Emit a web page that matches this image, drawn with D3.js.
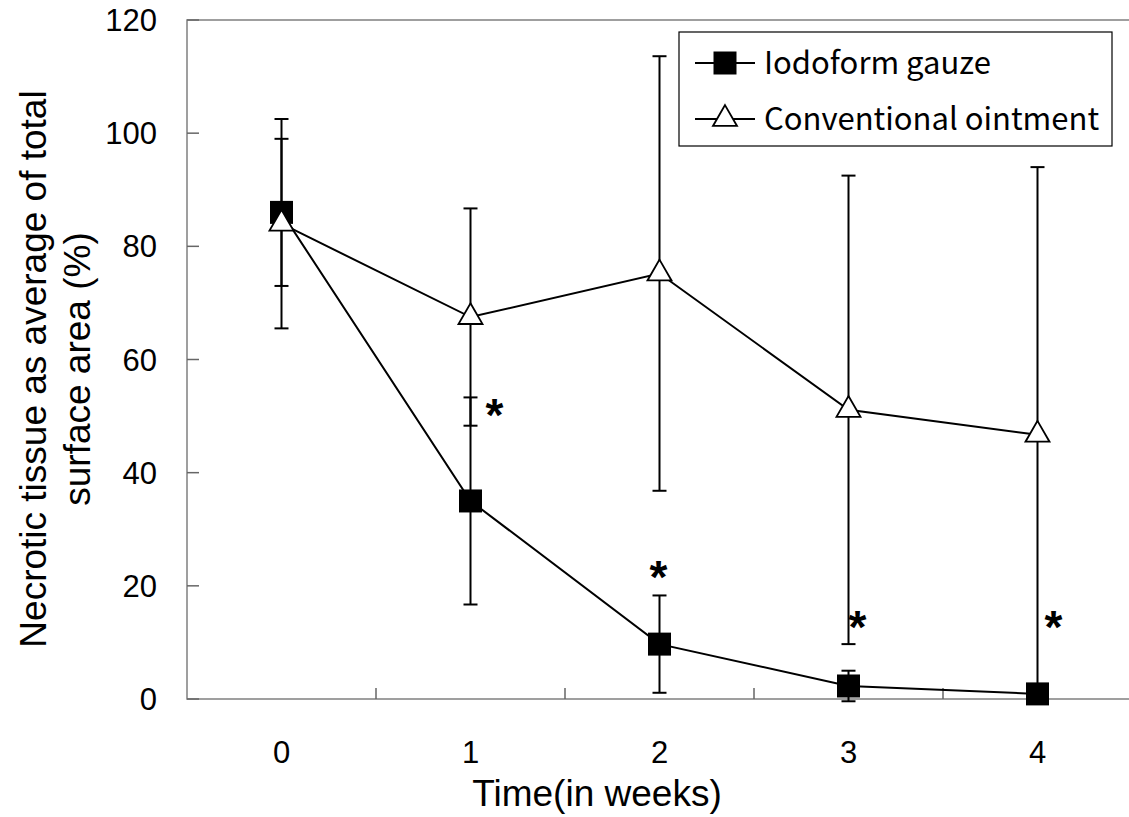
<!DOCTYPE html>
<html>
<head>
<meta charset="utf-8">
<script src="https://cdn.jsdelivr.net/npm/d3@7"></script>
<style>
	body { margin: 0; background: #fff; }
	svg { display: block; }
	.tick-label { font-family: "Liberation Sans", Arial, sans-serif; font-size: 31px; fill: #000; }
	.axis-title { font-family: "Liberation Sans", Arial, sans-serif; font-size: 37px; fill: #000; }
	.legend-text { font-family: "Noto Sans CJK JP", "Liberation Sans", sans-serif; font-size: 31px; fill: #000; }
	.star { font-family: "Liberation Sans", Arial, sans-serif; font-size: 46px; font-weight: bold; fill: #000; }
</style>
</head>
<body>
<svg id="svg"></svg>
<script>
// data
const weeks = [0, 1, 2, 3, 4];
const yTicks = [0, 20, 40, 60, 80, 100, 120];
const iodoformMean = [86, 35, 9.7, 2.3, 0.9];
const iodoformSd = [13, 18.3, 8.6, 2.7, 0.5];
const ointmentMean = [84, 67.5, 75.2, 51.1, 46.7];
const ointmentSd = [18.5, 19.2, 38.4, 41.4, 47.3];
// asterisk annotations: week and height (in % units)
const starWeeks = [1, 2, 3, 4];
const starLevels = [51.4, 22.8, 14, 14];
const starOffsets = [24, -1, 9, 16];

const svgWidth = 1129;
const svgHeight = 817;
const marginLeft = 187;
const marginTop = 20;
const bandWidth = 189;
const plotBottom = 699;

const svg = d3.select('#svg').attr('width', svgWidth).attr('height', svgHeight);

const xScale = d3.scaleBand()
	.domain(weeks)
	.range([marginLeft, marginLeft + bandWidth * weeks.length]);
const xPos = w => xScale(w) + xScale.bandwidth() / 2;

const yScale = d3.scaleLinear()
	.domain([0, 120])
	.range([plotBottom, marginTop]);

// frame: left, top, bottom (no right side in the picture)
svg.append('path')
	.attr('d', `M${svgWidth},${marginTop}H${marginLeft}V${plotBottom}H${svgWidth}`)
	.attr('fill', 'none')
	.attr('stroke', '#808080')
	.attr('stroke-width', 1.5);

// y ticks inside the plot
svg.selectAll('line.ytick')
		.data(yTicks)
		.enter()
	.append('line')
		.attr('class', 'ytick')
		.attr('x1', marginLeft)
		.attr('x2', marginLeft + 12)
		.attr('y1', d => yScale(d))
		.attr('y2', d => yScale(d))
		.attr('stroke', '#666')
		.attr('stroke-width', 1.5);

svg.selectAll('text.ylabel')
		.data(yTicks)
		.enter()
	.append('text')
		.attr('class', 'tick-label ylabel')
		.attr('x', 157)
		.attr('y', d => yScale(d) + 11)
		.attr('text-anchor', 'end')
		.text(d => d);

// x ticks between categories
svg.selectAll('line.xtick')
		.data(weeks.slice(1))
		.enter()
	.append('line')
		.attr('class', 'xtick')
		.attr('x1', d => xScale(d))
		.attr('x2', d => xScale(d))
		.attr('y1', plotBottom)
		.attr('y2', plotBottom - 11)
		.attr('stroke', '#666')
		.attr('stroke-width', 1.5);

svg.selectAll('text.xlabel')
		.data(weeks)
		.enter()
	.append('text')
		.attr('class', 'tick-label xlabel')
		.attr('x', d => xPos(d))
		.attr('y', 763)
		.attr('text-anchor', 'middle')
		.text(d => d);

// axis titles
svg.append('text')
	.attr('class', 'axis-title')
	.attr('x', 597)
	.attr('y', 806)
	.attr('text-anchor', 'middle')
	.text('Time(in weeks)');

const yTitle = svg.append('g')
	.attr('transform', 'translate(0, 369) rotate(-90)');
yTitle.append('text')
	.attr('class', 'axis-title')
	.attr('x', 0)
	.attr('y', 46)
	.attr('text-anchor', 'middle')
	.text('Necrotic tissue as average of total');
yTitle.append('text')
	.attr('class', 'axis-title')
	.attr('x', 0)
	.attr('y', 90)
	.attr('text-anchor', 'middle')
	.text('surface area (%)');

// error bars
function drawErrorBars(means, sds, cls) {
	const g = svg.append('g').attr('class', cls);
	const rows = weeks.map((w, i) => ({ w: w, m: means[i], s: sds[i] }));
	g.selectAll('line.stem')
			.data(rows)
			.enter()
		.append('line')
			.attr('x1', d => xPos(d.w))
			.attr('x2', d => xPos(d.w))
			.attr('y1', d => yScale(d.m + d.s))
			.attr('y2', d => yScale(d.m - d.s))
			.attr('stroke', '#000')
			.attr('stroke-width', 2);
	[1, -1].forEach(sign => {
		g.selectAll('line.cap' + sign)
				.data(rows)
				.enter()
			.append('line')
				.attr('x1', d => xPos(d.w) - 7)
				.attr('x2', d => xPos(d.w) + 7)
				.attr('y1', d => yScale(d.m + sign * d.s))
				.attr('y2', d => yScale(d.m + sign * d.s))
				.attr('stroke', '#000')
				.attr('stroke-width', 2);
	});
}
drawErrorBars(ointmentMean, ointmentSd, 'err-ointment');
drawErrorBars(iodoformMean, iodoformSd, 'err-iodoform');

// lines
const line = d3.line()
	.x((d, i) => xPos(weeks[i]))
	.y(d => yScale(d));

svg.append('path')
	.datum(iodoformMean)
	.attr('d', line)
	.attr('fill', 'none')
	.attr('stroke', '#000')
	.attr('stroke-width', 2);

svg.append('path')
	.datum(ointmentMean)
	.attr('d', line)
	.attr('fill', 'none')
	.attr('stroke', '#000')
	.attr('stroke-width', 2);

// markers
const squareSym = d3.symbol().type(d3.symbolSquare).size(23 * 23);
const triangleSym = d3.symbol().type(d3.symbolTriangle).size(250);

svg.selectAll('path.sq')
		.data(iodoformMean)
		.enter()
	.append('path')
		.attr('class', 'sq')
		.attr('transform', (d, i) => `translate(${xPos(weeks[i])}, ${yScale(d)})`)
		.attr('d', squareSym)
		.attr('fill', '#000');

svg.selectAll('path.tri')
		.data(ointmentMean)
		.enter()
	.append('path')
		.attr('class', 'tri')
		.attr('transform', (d, i) => `translate(${xPos(weeks[i])}, ${yScale(d)})`)
		.attr('d', triangleSym)
		.attr('fill', '#fff')
		.attr('stroke', '#000')
		.attr('stroke-width', 1.8);

// asterisks (glyph centred on the level)
svg.selectAll('text.star')
		.data(starWeeks)
		.enter()
	.append('text')
		.attr('class', 'star')
		.attr('x', (d, i) => xPos(d) + starOffsets[i])
		.attr('y', (d, i) => yScale(starLevels[i]) + 23)
		.attr('text-anchor', 'middle')
		.text('*');

// legend
const legend = svg.append('g').attr('transform', 'translate(679, 32)');
legend.append('rect')
	.attr('width', 433)
	.attr('height', 114)
	.attr('fill', '#fff')
	.attr('stroke', '#000')
	.attr('stroke-width', 1.2);

const legendRows = [
	{ label: 'Iodoform gauze', sym: squareSym, fill: '#000', y: 31 },
	{ label: 'Conventional ointment', sym: triangleSym, fill: '#fff', y: 87 }
];
legendRows.forEach(row => {
	legend.append('line')
		.attr('x1', 16)
		.attr('x2', 76)
		.attr('y1', row.y)
		.attr('y2', row.y)
		.attr('stroke', '#000')
		.attr('stroke-width', 2);
	legend.append('path')
		.attr('transform', `translate(46, ${row.y})`)
		.attr('d', row.sym)
		.attr('fill', row.fill)
		.attr('stroke', '#000')
		.attr('stroke-width', row.fill === '#fff' ? 1.8 : 0);
	legend.append('text')
		.attr('class', 'legend-text')
		.attr('x', 85)
		.attr('y', row.y + 11)
		.text(row.label);
});
</script>
</body>
</html>
